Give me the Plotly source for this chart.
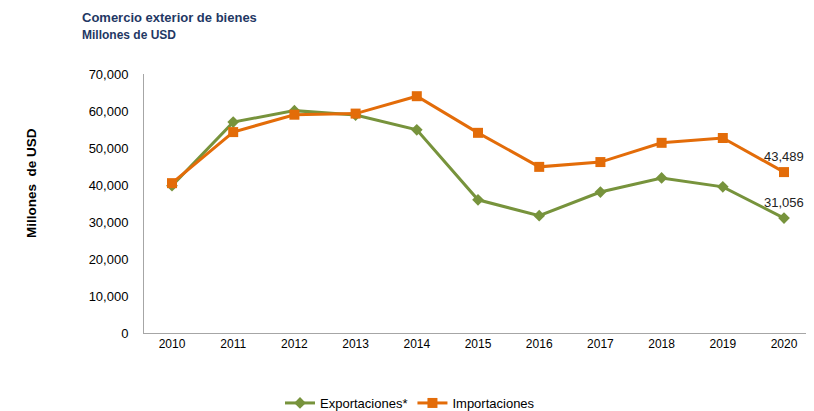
import plotly.graph_objects as go

years = ["2010", "2011", "2012", "2013", "2014", "2015", "2016", "2017", "2018", "2019", "2020"]
exportaciones = [39800, 57000, 60100, 58900, 54900, 36000, 31700, 38100, 41900, 39500, 31056]
importaciones = [40500, 54300, 59000, 59300, 64000, 54100, 44900, 46200, 51400, 52700, 43489]
y_ticks = [0, 10000, 20000, 30000, 40000, 50000, 60000, 70000]

green = "#77933C"
orange = "#E36C09"
font_family = "Liberation Sans, Arial, sans-serif"

# page body has an 8px margin; figure is sized so it fits the 814x411 window
W, H = 806, 403
L, T, B = 136, 66, 78
PW = W - L
PH = H - T - B

fig = go.Figure()
fig.add_trace(go.Scatter(
    x=years, y=exportaciones, name="Exportaciones*", mode="lines+markers",
    line=dict(color=green, width=3),
    marker=dict(symbol="diamond", size=9, color=green),
    cliponaxis=False,
))
fig.add_trace(go.Scatter(
    x=years, y=importaciones, name="Importaciones", mode="lines+markers",
    line=dict(color=orange, width=3),
    marker=dict(symbol="square", size=10, color=orange),
    cliponaxis=False,
))

last = len(years) - 1  # category index of the last year
for series in (exportaciones, importaciones):
    fig.add_annotation(
        x=last, y=series[-1], xref="x", yref="y",
        text=f"{series[-1]:,}", showarrow=False,
        xanchor="center", yanchor="bottom", yshift=6,
        font=dict(size=13, color="#222222", family=font_family),
    )

fig.update_layout(
    width=W, height=H,
    margin=dict(l=L, r=0, t=T, b=B, autoexpand=False),
    paper_bgcolor="white", plot_bgcolor="white",
    font=dict(family=font_family, size=12, color="#000000"),
    showlegend=True,
    legend=dict(orientation="h", x=(410 - 8) / W, xanchor="center", xref="container",
                y=(H - (403 - 8)) / H, yanchor="middle", yref="container",
                font=dict(size=13, color="#000000")),
)
fig.add_annotation(text="<b>Comercio exterior de bienes</b>", xref="paper", yref="paper",
                   x=(80 - 8 - L) / PW, y=1 + (T - (17 - 8)) / PH, xanchor="left", yanchor="middle",
                   showarrow=False, font=dict(size=13, color="#1F3864", family=font_family))
fig.add_annotation(text="<b>Millones de USD</b>", xref="paper", yref="paper",
                   x=(80 - 8 - L) / PW, y=1 + (T - (35 - 8)) / PH, xanchor="left", yanchor="middle",
                   showarrow=False, font=dict(size=12, color="#1F3864", family=font_family))
fig.add_annotation(text="<b>Millones  de USD</b>", xref="paper", yref="paper",
                   x=(31 - 8 - L) / PW, y=((T + PH) - (183 - 8)) / PH, xanchor="center", yanchor="middle",
                   textangle=-90, showarrow=False,
                   font=dict(size=13.5, color="#000000", family=font_family))

fig.update_xaxes(
    type="category", range=[-0.4575, 10.49], automargin=False,
    showline=True, linecolor="#A6A6A6", linewidth=1,
    showgrid=False, ticks="", tickfont=dict(size=12, color="#000000"),
    zeroline=False,
)
fig.update_yaxes(
    range=[0, 70000], tickvals=y_ticks, tickformat=",d", automargin=False,
    showline=True, linecolor="#A6A6A6", linewidth=1,
    showgrid=False, ticks="", tickfont=dict(size=13, color="#000000"),
    zeroline=False, ticklabelstandoff=12,
)

fig.write_html("out.html")
